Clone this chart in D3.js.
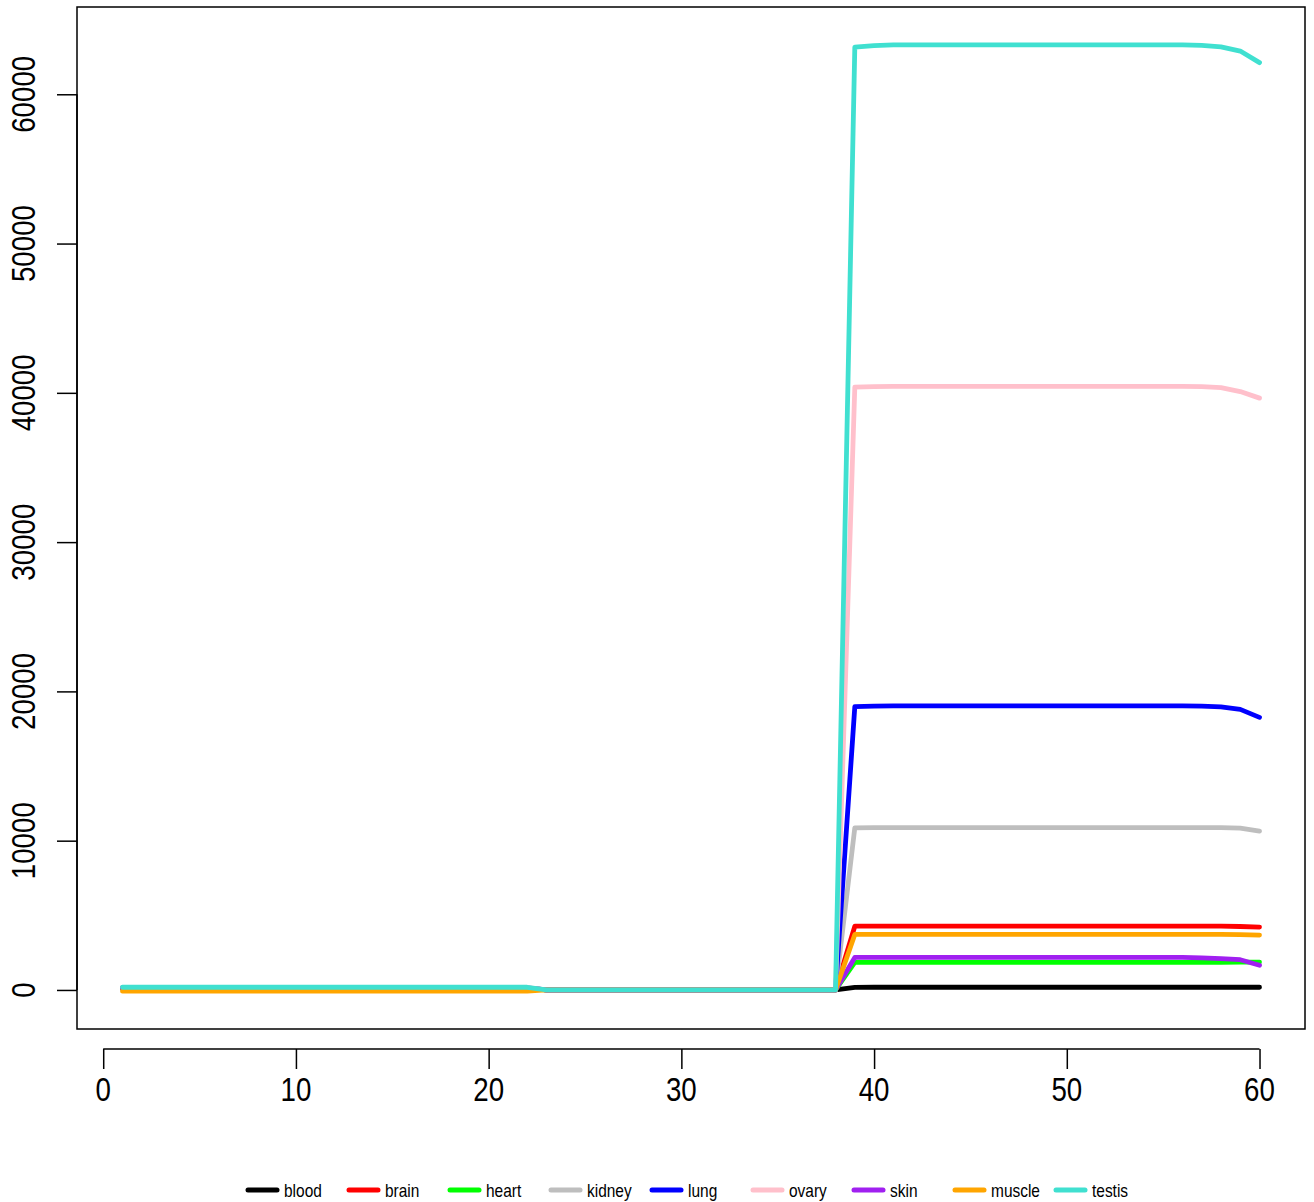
<!DOCTYPE html>
<html>
<head>
<meta charset="utf-8">
<script src="https://cdn.jsdelivr.net/npm/d3@7"></script>
<style>
  html, body { margin: 0; padding: 0; background: #fff; }
  svg { display: block; }
  text { font-family: "Liberation Sans", Arial, Helvetica, sans-serif; fill: #000; }
</style>
</head>
<body>
<svg id="chart" width="1314" height="1202"></svg>
<script>
// ---------- data ----------
const tissues = ["blood", "brain", "heart", "kidney", "lung", "ovary", "skin", "muscle", "testis"];
const colors  = ["#000000", "#FF0000", "#00FF00", "#BEBEBE", "#0000FF", "#FFC0CB", "#A020F0", "#FFA500", "#40E0D0"];
const xTicks = [0, 10, 20, 30, 40, 50, 60];
const yTicks = [0, 10000, 20000, 30000, 40000, 50000, 60000];

const blood = [100,100,100,100,100,100,100,100,100,100,100,100,100,100,100,100,100,100,100,100,100,100,
  0,0,0,0,0,0,0,0,0,0,0,0,0,0,0,0,
  170,180,180,180,180,180,180,180,180,180,180,180,180,180,180,180,180,180,180,180,180,180];
const brain = [120,120,120,120,120,120,120,120,120,120,120,120,120,120,120,120,120,120,120,120,120,120,
  0,0,0,0,0,0,0,0,0,0,0,0,0,0,0,0,
  4270,4281,4281,4281,4281,4281,4281,4281,4281,4281,4281,4281,4281,4281,4281,4281,4281,4281,4281,4270,4250,4214];
const heart = [80,80,80,80,80,80,80,80,80,80,80,80,80,80,80,80,80,80,80,80,80,80,
  0,0,0,0,0,0,0,0,0,0,0,0,0,0,0,0,
  1850,1853,1853,1853,1853,1853,1853,1853,1853,1853,1853,1853,1853,1853,1853,1853,1853,1853,1853,1853,1860,1870];
const kidney = [130,130,130,130,130,130,130,130,130,130,130,130,130,130,130,130,130,130,130,130,130,130,
  0,0,0,0,0,0,0,0,0,0,0,0,0,0,0,0,
  10860,10880,10880,10880,10880,10880,10880,10880,10880,10880,10880,10880,10880,10880,10880,10880,10880,10880,10880,10870,10836,10635];
const lung = [140,140,140,140,140,140,140,140,140,140,140,140,140,140,140,140,140,140,140,140,140,140,
  0,0,0,0,0,0,0,0,0,0,0,0,0,0,0,0,
  18977,19020,19030,19030,19030,19030,19030,19030,19030,19030,19030,19030,19030,19030,19030,19030,19030,19030,19010,18963,18796,18261];
const ovary = [150,150,150,150,150,150,150,150,150,150,150,150,150,150,150,150,150,150,150,150,150,150,
  0,0,0,0,0,0,0,0,0,0,0,0,0,0,0,0,
  40381,40420,40435,40435,40435,40435,40435,40435,40435,40435,40435,40435,40435,40435,40435,40435,40435,40435,40420,40355,40087,39645];
const skin = [90,90,90,90,90,90,90,90,90,90,90,90,90,90,90,90,90,90,90,90,90,90,
  0,0,0,0,0,0,0,0,0,0,0,0,0,0,0,0,
  2180,2187,2187,2187,2187,2187,2187,2187,2187,2187,2187,2187,2187,2187,2187,2187,2187,2187,2150,2094,2027,1652];
const muscle = [-80,-80,-80,-80,-80,-80,-80,-80,-80,-80,-80,-80,-80,-80,-80,-80,-80,-80,-80,-80,-80,-80,
  0,0,0,0,0,0,0,0,0,0,0,0,0,0,0,0,
  3720,3725,3725,3725,3725,3725,3725,3725,3725,3725,3725,3725,3725,3725,3725,3725,3725,3725,3725,3725,3710,3679];
const testis = [180,180,180,180,180,180,180,180,180,180,180,180,180,180,180,180,180,180,180,180,180,180,
  0,0,0,0,0,0,0,0,0,0,0,0,0,0,0,0,
  63164,63260,63311,63311,63311,63311,63311,63311,63311,63311,63311,63311,63311,63311,63311,63311,63311,63311,63280,63180,62896,62120];

const seriesValues = [blood, brain, heart, kidney, lung, ovary, skin, muscle, testis];

// ---------- layout ----------
const svg = d3.select("#chart");
const plotL = 77, plotR = 1305, plotT = 7, plotB = 1029;

const xMin = 1, xMax = 60;
const xPad = (xMax - xMin) * 0.04;
const x = d3.scaleLinear().domain([xMin - xPad, xMax + xPad]).range([plotL, plotR]);

const allVals = seriesValues.flat();
const yMin = d3.min(allVals), yMax = d3.max(allVals);
const yPad = (yMax - yMin) * 0.04;
const y = d3.scaleLinear().domain([yMin - yPad, yMax + yPad]).range([plotB, plotT]);

// lines
const line = d3.line().x((d, i) => x(i + 1)).y(d => y(d));
svg.append("g").selectAll("path")
  .data(seriesValues)
  .join("path")
  .attr("d", d => line(d))
  .attr("fill", "none")
  .attr("stroke", (d, i) => colors[i])
  .attr("stroke-width", 4.8)
  .attr("stroke-linejoin", "round")
  .attr("stroke-linecap", "round");

// box
svg.append("rect")
  .attr("x", plotL).attr("y", plotT)
  .attr("width", plotR - plotL).attr("height", plotB - plotT)
  .attr("fill", "none").attr("stroke", "#000").attr("stroke-width", 1.5);

const labelSize = 33, labelSquash = 0.84;

// y axis
const yAxisG = svg.append("g").attr("transform", `translate(${plotL},0)`)
  .call(d3.axisLeft(y).tickValues(yTicks).tickSize(20).tickSizeOuter(0).tickFormat(""));
yAxisG.select(".domain").remove();
yAxisG.selectAll(".tick line").attr("stroke", "#000").attr("stroke-width", 1.5);
svg.append("line")
  .attr("x1", plotL).attr("x2", plotL)
  .attr("y1", y(yTicks[0])).attr("y2", y(yTicks[yTicks.length - 1]))
  .attr("stroke", "#000").attr("stroke-width", 1.5);
svg.append("g").selectAll("text")
  .data(yTicks)
  .join("text")
  .attr("transform", d => `translate(35,${y(d)}) rotate(-90) scale(${labelSquash},1)`)
  .attr("text-anchor", "middle")
  .attr("font-size", labelSize)
  .text(d => d);

// x axis
const xAxisY = 1049;
const xAxisG = svg.append("g").attr("transform", `translate(0,${xAxisY})`)
  .call(d3.axisBottom(x).tickValues(xTicks).tickSize(20).tickSizeOuter(0).tickFormat(""));
xAxisG.select(".domain").remove();
xAxisG.selectAll(".tick line").attr("stroke", "#000").attr("stroke-width", 1.5);
svg.append("line")
  .attr("x1", x(xTicks[0])).attr("x2", x(xTicks[xTicks.length - 1]))
  .attr("y1", xAxisY).attr("y2", xAxisY)
  .attr("stroke", "#000").attr("stroke-width", 1.5);
svg.append("g").selectAll("text")
  .data(xTicks)
  .join("text")
  .attr("transform", d => `translate(${x(d)},1101) scale(${labelSquash},1)`)
  .attr("text-anchor", "middle")
  .attr("font-size", labelSize)
  .text(d => d);

// legend
const legendX0 = 246, legendStep = 101, legendY = 1190;
const leg = svg.append("g").selectAll("g")
  .data(tissues)
  .join("g")
  .attr("transform", (d, i) => `translate(${legendX0 + i * legendStep},${legendY})`);
leg.append("line")
  .attr("x1", 2).attr("x2", 31).attr("y1", 0).attr("y2", 0)
  .attr("stroke", (d, i) => colors[i])
  .attr("stroke-width", 5)
  .attr("stroke-linecap", "round");
leg.append("text")
  .attr("transform", "translate(38,7) scale(0.86,1)")
  .attr("font-size", 18)
  .text(d => d);
</script>
</body>
</html>
